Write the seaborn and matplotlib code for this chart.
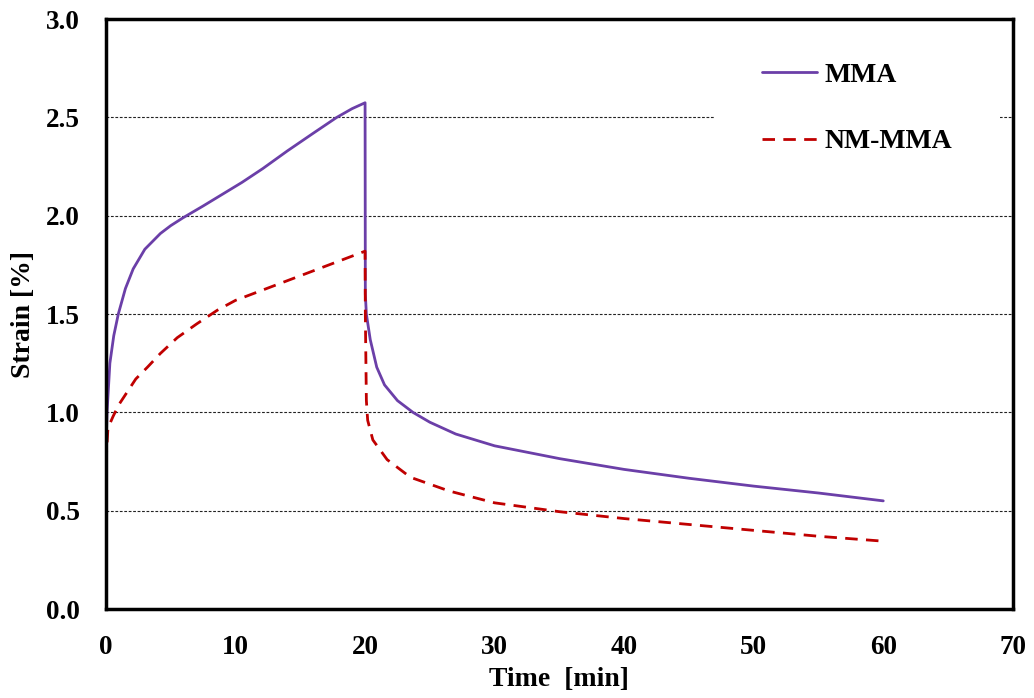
import matplotlib
matplotlib.use("Agg")
import matplotlib.pyplot as plt
import seaborn as sns
import pandas as pd

# ---- data ----
mma_time = [0, 0.02, 0.08, 0.3, 0.6, 0.95, 1.5, 2.1, 3, 4.2, 5, 5.95, 7.5, 9, 10.5, 12.1,
            14, 16, 17.8, 19, 20,
            20.02, 20.1, 20.4, 20.9, 21.5, 22.5, 23.7, 25, 27, 30, 35, 40, 45, 50, 55, 60]
mma_strain = [0, 0.85, 1.0, 1.25, 1.39, 1.50, 1.63, 1.73, 1.83, 1.91, 1.95, 1.99, 2.05, 2.11,
              2.17, 2.24, 2.33, 2.42, 2.50, 2.545, 2.575,
              1.6, 1.5, 1.37, 1.23, 1.14, 1.06, 1.0, 0.95, 0.89, 0.83, 0.765, 0.71, 0.665, 0.625,
              0.59, 0.55]

nm_time = [0, 0.05, 0.15, 0.55, 1, 1.6, 2.3, 3.2, 4.2, 5.5, 7, 8.6, 10, 12, 14, 16, 18, 19.2, 20,
           20.02, 20.1, 20.2, 20.6, 21.7, 23.5, 26.5, 30, 35, 40, 45, 50, 55, 60]
nm_strain = [0, 0.8, 0.92, 0.98, 1.04, 1.10, 1.17, 1.23, 1.30, 1.38, 1.45, 1.52, 1.57, 1.62, 1.67,
             1.72, 1.77, 1.80, 1.82,
             1.5, 1.06, 0.96, 0.86, 0.76, 0.67, 0.6, 0.54, 0.495, 0.46, 0.43, 0.40, 0.37, 0.345]

labels = ["MMA", "NM-MMA"]
x_ticks = [0, 10, 20, 30, 40, 50, 60, 70]
y_ticks = [0.0, 0.5, 1.0, 1.5, 2.0, 2.5, 3.0]

sns.set_style("white")
plt.rcParams["font.family"] = ["Liberation Serif", "DejaVu Serif"]
plt.rcParams["font.weight"] = "bold"
plt.rcParams["text.color"] = "black"
plt.rcParams["axes.labelcolor"] = "black"
plt.rcParams["xtick.color"] = "black"
plt.rcParams["ytick.color"] = "black"

fig = plt.figure(figsize=(10.34, 6.98), dpi=100)
ax = fig.add_axes([0.1025, 0.1275, 0.877, 0.845])

df1 = pd.DataFrame({"t": mma_time, "s": mma_strain})
df2 = pd.DataFrame({"t": nm_time, "s": nm_strain})

sns.lineplot(data=df1, x="t", y="s", ax=ax, estimator=None, sort=False,
             color="#6B3FA8", linewidth=2.0, label=labels[0])
sns.lineplot(data=df2, x="t", y="s", ax=ax, estimator=None, sort=False,
             color="#C00000", linewidth=2.0, linestyle=(0, (4.5, 3)), label=labels[1])

ax.set_xlim(0, 70)
ax.set_ylim(0, 3.0)
ax.set_xticks(x_ticks)
ax.set_yticks(y_ticks)
ax.set_xticklabels([str(v) for v in x_ticks])
ax.set_yticklabels([f"{v:.1f}" for v in y_ticks])
ax.tick_params(axis="both", length=0, labelsize=19.5, labelcolor="black")
ax.tick_params(axis="x", pad=19)
ax.tick_params(axis="y", pad=19)
for lab in ax.get_xticklabels() + ax.get_yticklabels():
    lab.set_fontweight("bold")

for yv in y_ticks[1:-1]:
    ax.axhline(yv, color="#222222", linestyle=(0, (2.5, 1.5)), linewidth=0.8, zorder=0)

for sp in ax.spines.values():
    sp.set_visible(True)
    sp.set_color("black")
    sp.set_linewidth(2.5)
    sp.set_zorder(3)

ax.set_xlabel("Time  [min]", fontsize=20, fontweight="bold", labelpad=5)
ax.set_ylabel("Strain [%]", fontsize=20, fontweight="bold", labelpad=7)

leg = ax.legend(loc="upper right", bbox_to_anchor=(1.001, 1.03), frameon=True,
                fontsize=20, handlelength=1.95, labelspacing=1.47, borderpad=1.7,
                handletextpad=0.3)
leg.get_frame().set_edgecolor("none")
leg.get_frame().set_facecolor("white")
leg.get_frame().set_alpha(1)
leg.get_frame().set_boxstyle("square", pad=0)
leg.set_zorder(2.2)
for t in leg.get_texts():
    t.set_fontweight("bold")

fig.savefig("out.png", dpi=100)
